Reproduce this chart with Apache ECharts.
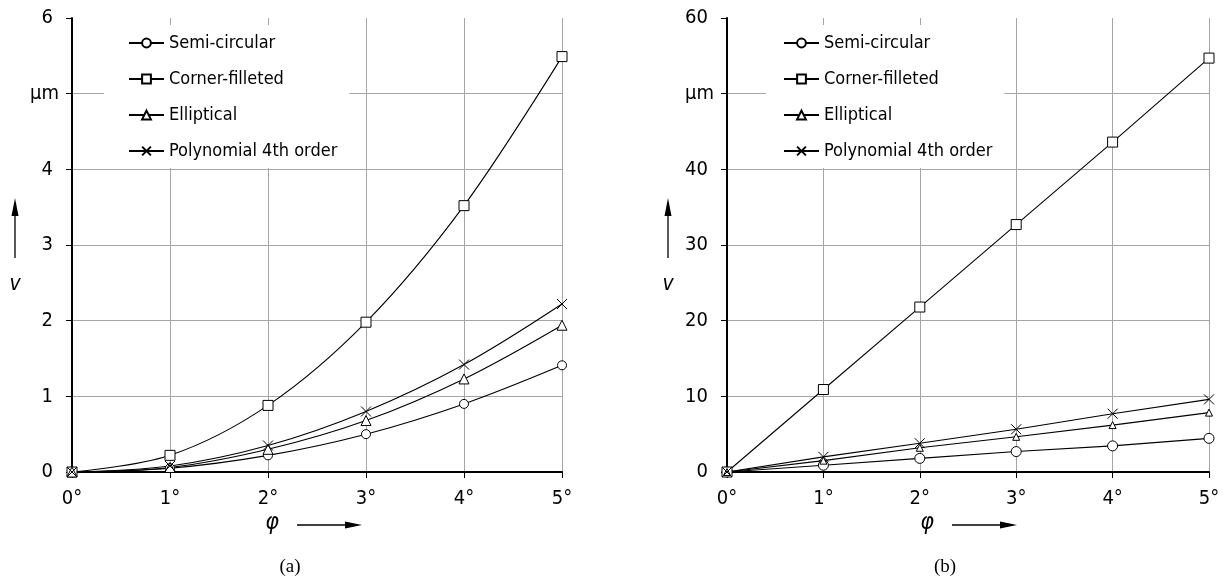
<!DOCTYPE html>
<html><head><meta charset="utf-8">
<script src="https://cdn.jsdelivr.net/npm/echarts@6/dist/echarts.min.js"></script>
<style>html,body{margin:0;padding:0;background:#fff}#c{width:1223px;height:580px}</style>
</head><body><div id="c"></div>
<script>
const phi = [0, 1, 2, 3, 4, 5];
const names = ['Semi-circular', 'Corner-filleted', 'Elliptical', 'Polynomial 4th order'];
// chart (a)
const aSemi = [0, 0.05, 0.22, 0.50, 0.90, 1.41];
const aCorner = [0, 0.22, 0.88, 1.98, 3.52, 5.49];
const aEllip = [0, 0.06, 0.30, 0.68, 1.23, 1.94];
const aPoly = [0, 0.08, 0.35, 0.80, 1.42, 2.22];
// chart (b)
const bSemi = [0, 0.9, 1.8, 2.7, 3.45, 4.45];
const bCorner = [0, 10.9, 21.8, 32.7, 43.6, 54.7];
const bEllip = [0, 1.5, 3.2, 4.65, 6.2, 7.85];
const bPoly = [0, 2.0, 3.8, 5.65, 7.7, 9.6];
const yTicksA = {min: 0, max: 6, interval: 1, unitAt: 5};
const yTicksB = {min: 0, max: 60, interval: 10, unitAt: 50};
const unitLabel = 'μm';
const panelLabels = ['(a)', '(b)'];

const FONT = "'DejaVu Sans Condensed','Liberation Sans Narrow','Liberation Sans',Arial,sans-serif";
const SERIF = "'Liberation Serif','Times New Roman',serif";
const CROSS = 'path://M0,0L10,10M10,0L0,10';

function pairs(arr){ return phi.map((x,i)=>[x, arr[i]]); }

const symA = [['circle',9],['rect',10],['triangle',10],[CROSS,10]];
const symB = [['circle',10],['rect',10],['triangle',7],[CROSS,10]];

function mkSeries(dataSets, syms, gi, smooth){
  return dataSets.map((d,k)=>({
    type:'line', name: names[k], xAxisIndex: gi, yAxisIndex: gi,
    data: pairs(d), smooth: smooth ? 0.35 : false,
    symbol: syms[k][0], symbolSize: syms[k][1], showAllSymbol: true,
    lineStyle:{color:'#000', width:1.1},
    itemStyle:{color: syms[k][0]===CROSS ? '#000' : '#fff', borderColor:'#000', borderWidth:1},
    emphasis:{disabled:true}, animation:false, z: 5
  }));
}

function xAxis(gi){
  return {type:'value', gridIndex: gi, min:0, max:5, interval:1,
    axisLine:{show:true, onZero:false, lineStyle:{color:'#000', width:2}},
    axisTick:{show:true, length:6, lineStyle:{color:'#000', width:1}},
    axisLabel:{formatter:'{value}°', color:'#000', fontFamily:FONT, fontSize:20, margin:17},
    splitLine:{show:true, showMinLine:false, lineStyle:{color:'#a6a6a6', width:1}}};
}
function yAxis(gi, t){
  return {type:'value', gridIndex: gi, min:t.min, max:t.max, interval:t.interval,
    axisLine:{show:true, onZero:false, lineStyle:{color:'#000', width:2}},
    axisTick:{show:true, length:6, lineStyle:{color:'#000', width:1}},
    axisLabel:{formatter:v=> v===t.unitAt ? '{u|'+unitLabel+'}' : '{d|'+v+'}', color:'#000', fontFamily:FONT, fontSize:20, margin:13,
      rich:{u:{fontFamily:FONT, fontSize:20, color:'#000'}, d:{fontFamily:FONT, fontSize:20, color:'#000', padding:[0,6,0,0]}}},
    splitLine:{show:true, showMinLine:false, showMaxLine:false, lineStyle:{color:'#a6a6a6', width:1}}};
}

function legend(left, pad){
  return {orient:'vertical', left:left, top:25, backgroundColor:'#fff',
    padding:pad, itemWidth:35, itemHeight:11, itemGap:18,
    data: names.map(n=>({name:n})),
    textStyle:{color:'#000', fontFamily:FONT, fontSize:18},
    inactiveColor:'#000', selectedMode:false, z: 10};
}

function arrowUp(x){
  return [
    {type:'line', shape:{x1:x, y1:258, x2:x, y2:212}, style:{stroke:'#000', lineWidth:1.3}},
    {type:'polygon', shape:{points:[[x-3.5,216],[x+3.5,216],[x,198]]}, style:{fill:'#000'}}
  ];
}
function arrowRight(x1, x2, y){
  return [
    {type:'line', shape:{x1:x1, y1:y, x2:x2-12, y2:y}, style:{stroke:'#000', lineWidth:1.3}},
    {type:'polygon', shape:{points:[[x2-17,y-3.5],[x2-17,y+3.5],[x2,y]]}, style:{fill:'#000'}}
  ];
}
function txt(x,y,s,font){ return {type:'text', x:x, y:y, style:{text:s, fill:'#000', font:font, align:'center', verticalAlign:'middle'}}; }

const chart = echarts.init(document.getElementById('c'), null, {renderer:'canvas'});
chart.setOption({
  animation:false,
  backgroundColor:'#fff',
  grid:[{left:72, right:661, top:18, bottom:108, containLabel:false},
        {left:727, right:14, top:18, bottom:108, containLabel:false}],
  xAxis:[xAxis(0), xAxis(1)],
  yAxis:[yAxis(0, yTicksA), yAxis(1, yTicksB)],
  legend:[legend(104,[9,12,8,24]), legend(766,[9,12,8,17])],
  series:[...mkSeries([aSemi,aCorner,aEllip,aPoly], symA, 0, true),
          ...mkSeries([bSemi,bCorner,bEllip,bPoly], symB, 1, false)],
  graphic:[
    ...arrowUp(15), txt(15,285,'v','italic 21px '+FONT),
    ...arrowRight(297,362,525), txt(272,523,'φ','italic 23px '+FONT),
    txt(290,567,panelLabels[0],'19px '+SERIF),
    ...arrowUp(668), txt(668,285,'v','italic 21px '+FONT),
    ...arrowRight(952,1017,525), txt(927,523,'φ','italic 23px '+FONT),
    txt(945,567,panelLabels[1],'19px '+SERIF)
  ]
});
</script></body></html>
